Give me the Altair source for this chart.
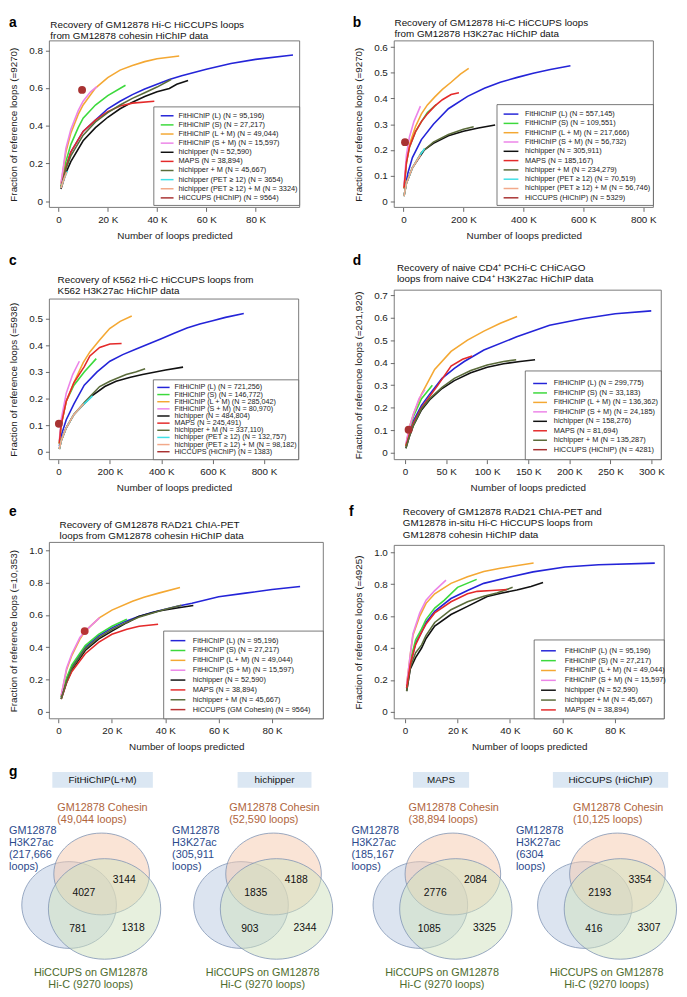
import altair as alt
import pandas as pd

FONT = "Liberation Sans"

# ----------------------------------------------------------------- data
COLORS = {
    "FitHiChIP (L)": "#2424d8",
    "FitHiChIP (S)": "#3cd93c",
    "FitHiChIP (L + M)": "#f4a833",
    "FitHiChIP (S + M)": "#ec84e8",
    "hichipper": "#111111",
    "MAPS": "#e42a2a",
    "hichipper + M": "#5a6b3a",
    "hichipper (PET ≥ 12)": "#3fe0e6",
    "hichipper (PET ≥ 12) + M": "#f2a98a",
    "HiCCUPS (HiChIP)": "#a83232",
    "HiCCUPS (GM Cohesin)": "#b83434",
}

METHODS_10 = ["FitHiChIP (L)", "FitHiChIP (S)", "FitHiChIP (L + M)", "FitHiChIP (S + M)",
              "hichipper", "MAPS", "hichipper + M", "hichipper (PET ≥ 12)",
              "hichipper (PET ≥ 12) + M", "HiCCUPS (HiChIP)"]

# panel a
A_N = [95196, 27217, 49044, 15597, 52590, 38894, 45667, 3654, 3324, 9564]
A_CURVES = {
    "FitHiChIP (L)": ([1, 3, 5, 10, 15, 20, 25, 30, 35, 40, 45, 50, 60, 70, 80, 95.2],
                      [0.07, 0.18, 0.26, 0.37, 0.43, 0.49, 0.53, 0.565, 0.595, 0.62, 0.645, 0.665, 0.70, 0.73, 0.752, 0.775]),
    "FitHiChIP (S)": ([1, 3, 5, 8, 10, 15, 20, 27.2], [0.08, 0.21, 0.30, 0.39, 0.44, 0.51, 0.56, 0.615]),
    "FitHiChIP (L + M)": ([1, 3, 5, 8, 10, 15, 20, 25, 30, 35, 40, 49.0],
                          [0.09, 0.26, 0.36, 0.46, 0.51, 0.60, 0.655, 0.695, 0.72, 0.74, 0.755, 0.77]),
    "FitHiChIP (S + M)": ([1, 3, 5, 8, 10, 13, 15.6], [0.09, 0.28, 0.38, 0.48, 0.53, 0.58, 0.607]),
    "hichipper": ([1, 3, 5, 10, 15, 20, 25, 30, 35, 40, 45, 48, 52.6],
                  [0.065, 0.15, 0.21, 0.32, 0.39, 0.445, 0.49, 0.525, 0.555, 0.58, 0.598, 0.62, 0.64]),
    "MAPS": ([1, 3, 5, 10, 15, 20, 25, 30, 38.9], [0.07, 0.18, 0.26, 0.37, 0.43, 0.475, 0.505, 0.52, 0.53]),
    "hichipper + M": ([1, 3, 5, 10, 15, 20, 25, 30, 35, 40, 45.7],
                      [0.07, 0.17, 0.24, 0.35, 0.42, 0.47, 0.51, 0.545, 0.575, 0.605, 0.645]),
    "hichipper (PET ≥ 12)": ([1, 2, 3.65], [0.07, 0.11, 0.16]),
    "hichipper (PET ≥ 12) + M": ([1, 2, 3.32], [0.07, 0.11, 0.155]),
}
A_DOT = [9.564, 0.59]

# panel b
B_N = [557145, 109551, 217666, 56732, 305911, 185167, 234279, 70519, 56746, 5329]
B_CURVES = {
    "FitHiChIP (L)": ([5, 15, 30, 60, 100, 150, 214, 270, 323, 380, 433, 490, 557.1],
                      [0.05, 0.11, 0.17, 0.24, 0.30, 0.36, 0.408, 0.44, 0.463, 0.482, 0.498, 0.513, 0.527]),
    "FitHiChIP (S)": ([2, 10, 20, 40, 60, 80, 109.6], [0.05, 0.15, 0.21, 0.27, 0.31, 0.345, 0.376]),
    "FitHiChIP (L + M)": ([2, 10, 20, 40, 60, 80, 104, 130, 159, 190, 217.7],
                          [0.05, 0.15, 0.22, 0.29, 0.34, 0.375, 0.405, 0.435, 0.463, 0.495, 0.517]),
    "FitHiChIP (S + M)": ([2, 10, 20, 35, 56.7], [0.06, 0.18, 0.25, 0.31, 0.37]),
    "hichipper": ([2, 10, 30, 70, 100, 150, 200, 250, 305.9],
                  [0.02, 0.07, 0.13, 0.20, 0.225, 0.255, 0.272, 0.285, 0.297]),
    "MAPS": ([2, 10, 20, 40, 60, 80, 104, 130, 159, 185.2],
             [0.05, 0.15, 0.21, 0.27, 0.31, 0.34, 0.37, 0.395, 0.415, 0.422]),
    "hichipper + M": ([2, 10, 30, 60, 100, 150, 200, 234.3], [0.02, 0.07, 0.13, 0.19, 0.23, 0.26, 0.28, 0.29]),
    "hichipper (PET ≥ 12)": ([2, 10, 30, 50, 70.5], [0.02, 0.07, 0.13, 0.17, 0.205]),
    "hichipper (PET ≥ 12) + M": ([2, 10, 30, 56.7], [0.02, 0.07, 0.13, 0.18]),
}
B_DOT = [5.329, 0.23]

# panel c
C_N = [721256, 146772, 285042, 80970, 484804, 245491, 337110, 132757, 98182, 1383]
C_CURVES = {
    "FitHiChIP (L)": ([3, 10, 30, 60, 100, 150, 200, 250, 300, 350, 400, 450, 500, 550, 600, 650, 721.3],
                      [0.02, 0.06, 0.12, 0.18, 0.25, 0.30, 0.34, 0.365, 0.385, 0.405, 0.425, 0.445, 0.465, 0.48, 0.492, 0.505, 0.52]),
    "FitHiChIP (S)": ([3, 10, 30, 60, 100, 146.8], [0.03, 0.10, 0.19, 0.25, 0.30, 0.35]),
    "FitHiChIP (L + M)": ([3, 10, 30, 60, 96, 122, 160, 199, 240, 285],
                          [0.03, 0.10, 0.19, 0.26, 0.335, 0.375, 0.42, 0.463, 0.49, 0.51]),
    "FitHiChIP (S + M)": ([3, 10, 30, 55, 81], [0.04, 0.12, 0.22, 0.29, 0.34]),
    "hichipper": ([3, 10, 30, 60, 100, 130, 180, 224, 280, 327, 417, 484.8],
                  [0.01, 0.04, 0.09, 0.14, 0.18, 0.21, 0.245, 0.265, 0.28, 0.29, 0.307, 0.318]),
    "MAPS": ([3, 10, 30, 60, 100, 122, 160, 200, 245.5], [0.03, 0.10, 0.19, 0.26, 0.32, 0.36, 0.392, 0.405, 0.407]),
    "hichipper + M": ([3, 10, 30, 60, 100, 160, 200, 263, 300, 337.1],
                      [0.01, 0.04, 0.09, 0.14, 0.185, 0.245, 0.265, 0.29, 0.30, 0.312]),
    "hichipper (PET ≥ 12)": ([3, 10, 30, 60, 100, 132.8], [0.01, 0.04, 0.09, 0.14, 0.18, 0.21]),
    "hichipper (PET ≥ 12) + M": ([3, 10, 30, 60, 98.2], [0.01, 0.04, 0.09, 0.14, 0.18]),
}
C_DOT = [1.383, 0.105]

# panel d
D_METHODS = ["FitHiChIP (L)", "FitHiChIP (S)", "FitHiChIP (L + M)", "FitHiChIP (S + M)",
             "hichipper", "MAPS", "hichipper + M", "HiCCUPS (HiChIP)"]
D_N = [299775, 33183, 136362, 24185, 158276, 81694, 135287, 4281]
D_CURVES = {
    "FitHiChIP (L)": ([1, 5, 10, 20, 30, 45, 60, 72, 96, 136, 176, 216, 256, 299.8],
                      [0.03, 0.09, 0.14, 0.21, 0.26, 0.33, 0.375, 0.405, 0.456, 0.515, 0.566, 0.595, 0.617, 0.63]),
    "FitHiChIP (S)": ([1, 5, 10, 20, 33.2], [0.03, 0.10, 0.16, 0.24, 0.30]),
    "FitHiChIP (L + M)": ([1, 5, 10, 20, 36, 56, 76, 96, 116, 136.4],
                          [0.03, 0.11, 0.17, 0.26, 0.37, 0.45, 0.50, 0.54, 0.575, 0.605]),
    "FitHiChIP (S + M)": ([1, 5, 10, 17, 24.2], [0.04, 0.11, 0.17, 0.24, 0.28]),
    "hichipper": ([1, 5, 10, 20, 30, 45, 60, 80, 100, 120, 140, 158.3],
                  [0.02, 0.07, 0.12, 0.19, 0.235, 0.285, 0.32, 0.355, 0.38, 0.395, 0.405, 0.413]),
    "MAPS": ([1, 5, 10, 20, 30, 40, 56, 70, 81.7], [0.03, 0.08, 0.13, 0.20, 0.25, 0.30, 0.385, 0.415, 0.43]),
    "hichipper + M": ([1, 5, 10, 20, 30, 45, 60, 80, 100, 120, 135.3],
                      [0.02, 0.07, 0.12, 0.195, 0.24, 0.29, 0.33, 0.365, 0.39, 0.405, 0.413]),
}
D_DOT = [4.281, 0.102]

# panel e
E_METHODS = ["FitHiChIP (L)", "FitHiChIP (S)", "FitHiChIP (L + M)", "FitHiChIP (S + M)",
             "hichipper", "MAPS", "hichipper + M", "HiCCUPS (GM Cohesin)"]
E_N = [95196, 27217, 49044, 15597, 52590, 38894, 45667, 9564]
E_CURVES = {
    "FitHiChIP (L)": ([1, 3, 5, 10, 15, 20, 25, 30, 35, 40, 45, 50, 60, 70, 80, 90.5],
                      [0.09, 0.2, 0.28, 0.40, 0.47, 0.52, 0.56, 0.59, 0.615, 0.635, 0.655, 0.672, 0.712, 0.735, 0.757, 0.776]),
    "FitHiChIP (S)": ([1, 3, 5, 10, 15, 20, 25.6], [0.09, 0.21, 0.29, 0.41, 0.48, 0.53, 0.573]),
    "FitHiChIP (L + M)": ([1, 3, 5, 8, 10, 15.4, 20, 27.7, 32, 37.5, 45.5],
                          [0.10, 0.26, 0.35, 0.45, 0.50, 0.583, 0.63, 0.685, 0.71, 0.735, 0.77]),
    "FitHiChIP (S + M)": ([1, 3, 5, 8, 10, 15.4], [0.10, 0.27, 0.36, 0.46, 0.50, 0.583]),
    "hichipper": ([1, 3, 5, 10, 15, 20, 25.6, 30, 37.5, 45, 50.5],
                  [0.08, 0.18, 0.26, 0.38, 0.45, 0.50, 0.552, 0.59, 0.624, 0.645, 0.658]),
    "MAPS": ([1, 3, 5, 10, 15, 20, 25.6, 30.2, 37.3], [0.08, 0.18, 0.25, 0.36, 0.43, 0.48, 0.512, 0.53, 0.542]),
    "hichipper + M": ([1, 3, 5, 10, 15, 20, 25, 30, 35, 40, 46],
                      [0.08, 0.19, 0.27, 0.39, 0.46, 0.51, 0.55, 0.585, 0.61, 0.635, 0.66]),
}
E_DOT = [9.8, 0.50]

# panel f
F_METHODS = ["FitHiChIP (L)", "FitHiChIP (S)", "FitHiChIP (L + M)", "FitHiChIP (S + M)",
             "hichipper", "hichipper + M", "MAPS"]
F_N = [95196, 27217, 49044, 15597, 52590, 45667, 38894]
F_CURVES = {
    "FitHiChIP (L)": ([0.6, 2, 4, 6.3, 8, 11.3, 17.5, 23.8, 30, 40, 48.8, 61, 73.8, 95.2],
                      [0.15, 0.30, 0.43, 0.50, 0.56, 0.63, 0.71, 0.76, 0.805, 0.845, 0.877, 0.907, 0.922, 0.932]),
    "FitHiChIP (S)": ([0.6, 2, 4, 6.3, 8, 11.3, 15, 20, 27.3], [0.16, 0.32, 0.45, 0.52, 0.58, 0.65, 0.70, 0.78, 0.83]),
    "FitHiChIP (L + M)": ([0.6, 2, 3, 5.6, 8, 11.3, 17.5, 23.8, 30, 36.3, 49],
                          [0.17, 0.36, 0.48, 0.60, 0.68, 0.74, 0.805, 0.846, 0.88, 0.90, 0.932]),
    "FitHiChIP (S + M)": ([0.6, 2, 3, 5.6, 8, 11.3, 15.6], [0.17, 0.36, 0.49, 0.62, 0.70, 0.76, 0.825]),
    "hichipper": ([0.6, 2, 4, 6.3, 8, 11.3, 17.5, 23.8, 31.3, 37, 42.6, 48, 52.6],
                  [0.13, 0.27, 0.34, 0.40, 0.46, 0.537, 0.61, 0.661, 0.723, 0.745, 0.764, 0.785, 0.81]),
    "hichipper + M": ([0.6, 2, 4, 6.3, 8, 11.3, 17.5, 23.8, 30, 35, 41],
                      [0.13, 0.28, 0.37, 0.42, 0.48, 0.56, 0.64, 0.69, 0.725, 0.745, 0.78]),
    "MAPS": ([0.6, 2, 4, 6.3, 8, 11.3, 17.5, 23.8, 27.5, 33, 38.9],
             [0.15, 0.30, 0.42, 0.50, 0.55, 0.62, 0.69, 0.74, 0.755, 0.76, 0.767]),
}

TITLES = {
    "a": ["Recovery of GM12878 Hi-C HiCCUPS loops", "from GM12878 cohesin HiChIP data"],
    "b": ["Recovery of GM12878 Hi-C HiCCUPS loops", "from GM12878 H3K27ac HiChIP data"],
    "c": ["Recovery of K562 Hi-C HiCCUPS loops from", "K562 H3K27ac HiChIP data"],
    "d": ["Recovery of naive CD4⁺ PCHi-C CHiCAGO", "loops from naive CD4⁺ H3K27ac HiChIP data"],
    "e": ["Recovery of GM12878 RAD21 ChIA-PET", "loops from GM12878 cohesin HiChIP data"],
    "f": ["Recovery of GM12878 RAD21 ChIA-PET and", "GM12878 in-situ Hi-C HiCCUPS loops from",
          "GM12878 cohesin HiChIP data"],
}
YTITLES = {
    "a": "Fraction of reference loops (=9270)",
    "b": "Fraction of reference loops (=9270)",
    "c": "Fraction of reference loops (=5938)",
    "d": "Fraction of reference loops (=201,920)",
    "e": "Fraction of reference loops (=10,353)",
    "f": "Fraction of reference loops (=4925)",
}
XTICKS = {"a": [0, 20, 40, 60, 80], "b": [0, 200, 400, 600, 800], "c": [0, 200, 400, 600, 800],
          "d": [0, 50, 100, 150, 200, 250, 300], "e": [0, 20, 40, 60, 80], "f": [0, 20, 40, 60, 80]}
YTICKS = {"a": [0, 0.2, 0.4, 0.6, 0.8], "b": [0, 0.1, 0.2, 0.3, 0.4, 0.5, 0.6],
          "c": [0, 0.1, 0.2, 0.3, 0.4, 0.5], "d": [0, 0.1, 0.2, 0.3, 0.4, 0.5, 0.6, 0.7],
          "e": [0, 0.2, 0.4, 0.6, 0.8, 1.0], "f": [0, 0.2, 0.4, 0.6, 0.8, 1.0]}

# Venn diagrams (panel g)
VENN_TITLES = ["FitHiChIP(L+M)", "hichipper", "MAPS", "HiCCUPS (HiChIP)"]
VENN_COHESIN = ["49,044", "52,590", "38,894", "10,125"]
VENN_H3K27AC = ["217,666", "305,911", "185,167", "6304"]
VENN_HIC = "9270"
# [all three, cohesin & HiC only, H3K27ac & HiC only, HiC only]
VENN_COUNTS = [[4027, 3144, 781, 1318], [1835, 4188, 903, 2344],
               [2776, 2084, 1085, 3325], [2193, 3354, 416, 3307]]

# ----------------------------------------------------------------- layout / style
LAYOUT = {
    "a": dict(w=254, h=169, top=0, xdom=[-3.7, 97.9], ydom=[-0.033, 0.850],
              letter=(-41, -14), tx=1, ty=-13.5, lh=11.5,
              box=(106, 67, 254, 167), r0=76, sp=9.26, sym=(113, 126), ltx=131, fs=7.5),
    "b": dict(w=263, h=169, top=0, xdom=[-30.6, 833.7], ydom=[-0.024, 0.624],
              letter=(-42, -14), tx=0.3, ty=-15.5, lh=12,
              box=(104.3, 64.7, 263, 167), r0=74.3, sp=9.44, sym=(111, 126), ltx=132.7, fs=7.5),
    "c": dict(w=253, h=172, top=9, xdom=[-35.7, 935], ydom=[-0.030, 0.574],
              letter=(-41, -26), tx=8.3, ty=-7, lh=11.3,
              box=(105.5, 91, 253, 172), r0=98.7, sp=7.25, sym=(109.5, 122), ltx=127, fs=7.3),
    "d": dict(w=271, h=172, top=0, xdom=[-13.2, 312], ydom=[-0.031, 0.722],
              letter=(-42, -26), tx=2.7, ty=-19, lh=11,
              box=(133, 82, 271, 172), r0=94.7, sp=9.6, sym=(141, 155), ltx=162, fs=7.5),
    "e": dict(w=278, h=179, top=0, xdom=[-3.43, 99.2], ydom=[-0.043, 1.049],
              letter=(-41, -27), tx=10.3, ty=-14.5, lh=11,
              box=(116, 90, 278, 179), r0=99.7, sp=10, sym=(123, 138), ltx=145.5, fs=7.5),
    "f": dict(w=274, h=179, top=3, xdom=[-4.13, 98.8], ydom=[-0.043, 1.043],
              letter=(-46, -27), tx=8.7, ty=-27.7, lh=11.5,
              box=(142, 99, 274, 179), r0=110, sp=10, sym=(149, 164), ltx=173, fs=7.5),
}

ONE = pd.DataFrame({"k": [0]})


def fmt_n(n):
    return f"{n:,}" if n >= 10000 else str(n)


def panel(key, methods, ns, curves, dot, anchor=False):
    lay = LAYOUT[key]
    w, h, top = lay["w"], lay["h"], lay["top"]
    labels = [f"{m} (N = {fmt_n(n)})" for m, n in zip(methods, ns)]
    lab = dict(zip(methods, labels))
    cscale = alt.Scale(domain=labels, range=[COLORS[m] for m in methods])
    color = alt.Color("label:N", scale=cscale, legend=None)
    rows = []
    for m in methods:
        if m in curves:
            xs, ys = curves[m]
            rows += [{"label": lab[m], "x": x, "y": y} for x, y in zip(xs, ys)]
    df = pd.DataFrame(rows)
    xsc = alt.Scale(domain=lay["xdom"], nice=False, zero=False)
    ysc = alt.Scale(domain=lay["ydom"], range=[h, top], nice=False, zero=False)
    xax = alt.Axis(values=XTICKS[key], labelExpr="datum.value == 0 ? '0' : datum.value + ' K'",
                   title="Number of loops predicted")
    yax = alt.Axis(values=YTICKS[key], labelExpr="datum.value == 0 ? '0' : format(datum.value, '.1f')",
                   title=YTITLES[key])
    layers = [
        alt.Chart(ONE).mark_rect(fillOpacity=0, stroke="#6b6b6b", strokeWidth=0.9).encode(
            x=alt.value(0), x2=alt.value(w), y=alt.value(top), y2=alt.value(h)),
        alt.Chart(df).mark_line(strokeWidth=1.6).encode(
            x=alt.X("x:Q", scale=xsc, axis=xax), y=alt.Y("y:Q", scale=ysc, axis=yax), color=color),
    ]
    if dot is not None:
        ddf = pd.DataFrame({"label": [labels[-1]], "x": [dot[0]], "y": [dot[1]]})
        layers.append(alt.Chart(ddf).mark_circle(size=64, opacity=1).encode(
            x=alt.X("x:Q", scale=xsc, axis=xax), y=alt.Y("y:Q", scale=ysc, axis=None), color=color))
    bx0, by0, bx1, by1 = lay["box"]
    n = len(labels)
    rsc = alt.Scale(domain=[0, n - 1], range=[lay["r0"], lay["r0"] + (n - 1) * lay["sp"]], nice=False, zero=False)
    ldf = pd.DataFrame({"label": labels, "row": list(range(n))})
    layers += [
        alt.Chart(ONE).mark_rect(fill="white", stroke="#555555", strokeWidth=0.8).encode(
            x=alt.value(bx0), x2=alt.value(bx1), y=alt.value(by0), y2=alt.value(by1)),
        alt.Chart(ldf).mark_rule(strokeWidth=1.5).encode(
            x=alt.value(lay["sym"][0]), x2=alt.value(lay["sym"][1]),
            y=alt.Y("row:Q", scale=rsc, axis=None), color=color),
        alt.Chart(ldf).mark_text(align="left", baseline="middle", fontSize=lay["fs"], font=FONT,
                                 color="#222222").encode(
            x=alt.value(lay["ltx"]), y=alt.Y("row:Q", scale=rsc, axis=None), text="label:N"),
    ]
    for i, line in enumerate(TITLES[key]):
        layers.append(alt.Chart(ONE).mark_text(text=line, align="left", baseline="alphabetic", fontSize=10,
                                               font=FONT, color="#111111").encode(
            x=alt.value(lay["tx"]), y=alt.value(lay["ty"] + i * lay["lh"])))
    layers.append(alt.Chart(ONE).mark_text(text=key, align="left", baseline="alphabetic", fontSize=14,
                                           fontWeight="bold", font=FONT, color="#000000").encode(
        x=alt.value(lay["letter"][0]), y=alt.value(lay["letter"][1])))
    if anchor:
        layers.append(alt.Chart(ONE).mark_point(size=1, opacity=0, filled=True).encode(
            x=alt.value(-41), y=alt.value(-25)))
    return alt.layer(*layers).resolve_scale(y="independent").properties(width=w, height=h)


# Venn geometry (page coordinates)
V_CX = [102, 276.5, 458.5, 625.5]
V_HEAD_CX = [103, 277.5, 446.5, 618.5]
V_HEAD_W = [102, 75, 57, 117]
ELL = {  # dx from cohesin centre, centre y, width, aspect, fill
    "B": (-33, 910, 96, 0.917, "#b9c9e2"),
    "O": (0, 878.5, 97, 0.856, "#f5c9ad"),
    "G": (3, 914, 114, 0.895, "#cfe2bd"),
}
NUM_POS = [(-18, 897.5), (23, 885), (-24, 934.5), (32, 933)]


def ellipse_path(a):
    k = 0.5523
    return (f"M1,0C1,{k*a:.4f} {k:.4f},{a:.4f} 0,{a:.4f}"
            f"C{-k:.4f},{a:.4f} -1,{k*a:.4f} -1,0"
            f"C-1,{-k*a:.4f} {-k:.4f},{-a:.4f} 0,{-a:.4f}"
            f"C{k:.4f},{-a:.4f} 1,{-k*a:.4f} 1,0Z")


def venn_cell(idxs, ox, oy, letter):
    xs = alt.Scale(domain=[0, 1000], range=[-ox, 1000 - ox], nice=False, zero=False)
    ys = alt.Scale(domain=[0, 1000], range=[-oy, 1000 - oy], nice=False, zero=False)

    def X(f):
        return alt.X(f, scale=xs, axis=None)

    def Y(f):
        return alt.Y(f, scale=ys, axis=None)

    head = pd.DataFrame([{"x0": V_HEAD_CX[i] - V_HEAD_W[i] / 2, "x1": V_HEAD_CX[i] + V_HEAD_W[i] / 2,
                          "y0": 775, "y1": 791, "cx": V_HEAD_CX[i], "cy": 783.5, "t": VENN_TITLES[i]}
                         for i in idxs])
    layers = [
        alt.Chart(head).mark_rect(fill="#dbe7f3").encode(x=X("x0:Q"), x2=alt.X2("x1"), y=Y("y0:Q"), y2=alt.Y2("y1")),
        alt.Chart(head).mark_text(fontSize=10, font=FONT, color="#111111", baseline="middle").encode(
            x=X("cx:Q"), y=Y("cy:Q"), text="t:N"),
    ]
    for key in ["B", "O", "G"]:
        dx, cy, wd, asp, fill = ELL[key]
        d = pd.DataFrame([{"px": V_CX[i] + dx, "py": cy} for i in idxs])
        layers.append(alt.Chart(d).mark_point(shape=ellipse_path(asp), size=wd * wd, filled=True, fill=fill,
                                              fillOpacity=0.5, stroke="#8094b4", strokeWidth=0.8,
                                              strokeOpacity=1, opacity=1).encode(x=X("px:Q"), y=Y("py:Q")))
    coh = pd.DataFrame([{"px": V_CX[i] - 45, "py": 815, "t": f"GM12878 Cohesin\n({VENN_COHESIN[i]} loops)"}
                        for i in idxs])
    h3 = pd.DataFrame([{"px": max(8, V_CX[i] - 103), "py": 838,
                        "t": f"GM12878\nH3K27ac\n({VENN_H3K27AC[i]}\nloops)"} for i in idxs])
    hic = pd.DataFrame([{"px": V_CX[i] - 11, "py": 982, "t": f"HiCCUPS on GM12878\nHi-C ({VENN_HIC} loops)"}
                        for i in idxs])
    nums = pd.DataFrame([{"px": V_CX[i] + NUM_POS[j][0], "py": NUM_POS[j][1], "t": str(VENN_COUNTS[i][j])}
                         for i in idxs for j in range(4)])
    layers += [
        alt.Chart(coh).mark_text(align="left", baseline="alphabetic", lineBreak="\n", lineHeight=12,
                                 fontSize=11, font=FONT, color="#b0653c").encode(x=X("px:Q"), y=Y("py:Q"), text="t:N"),
        alt.Chart(h3).mark_text(align="left", baseline="alphabetic", lineBreak="\n", lineHeight=12,
                                fontSize=11, font=FONT, color="#2c4a8c").encode(x=X("px:Q"), y=Y("py:Q"), text="t:N"),
        alt.Chart(hic).mark_text(align="center", baseline="alphabetic", lineBreak="\n", lineHeight=12,
                                 fontSize=11, font=FONT, color="#4e6b2d").encode(x=X("px:Q"), y=Y("py:Q"), text="t:N"),
        alt.Chart(nums).mark_text(align="center", baseline="middle", fontSize=10.5, font=FONT,
                                  color="#111111").encode(x=X("px:Q"), y=Y("py:Q"), text="t:N"),
    ]
    if letter:
        layers.append(alt.Chart(pd.DataFrame({"px": [8], "py": [779]})).mark_text(
            text="g", align="left", baseline="alphabetic", fontSize=14, fontWeight="bold", font=FONT,
            color="#000000").encode(x=X("px:Q"), y=Y("py:Q")))
    return alt.layer(*layers).properties(width=100, height=150)


pa = panel("a", METHODS_10, A_N, A_CURVES, A_DOT, anchor=True)
pb = panel("b", METHODS_10, B_N, B_CURVES, B_DOT)
pc = panel("c", METHODS_10, C_N, C_CURVES, C_DOT)
pd_ = panel("d", D_METHODS, D_N, D_CURVES, D_DOT)
pe = panel("e", E_METHODS, E_N, E_CURVES, E_DOT)
pf = panel("f", F_METHODS, F_N, F_CURVES, None)
v1 = venn_cell([0, 1], 49, 805, True)
v2 = venn_cell([2, 3], 399, 805, False)

chart = alt.concat(
    pa, pb, pc, pd_, pe, pf, v1, v2,
    columns=2, spacing={"row": 84, "column": 72}, bounds="flush", align="each",
).resolve_scale(
    x="independent", y="independent", color="independent"
).properties(padding=0).configure(font=FONT).configure_view(stroke="transparent").configure_axis(
    grid=False, domain=False, tickSize=4, tickColor="#444444", tickWidth=0.8,
    labelFontSize=10, labelColor="#222222", labelPadding=3, labelFont=FONT,
    titleFontSize=10, titleFontWeight="normal", titleColor="#222222", titleFont=FONT,
    labelFlush=False, labelOverlap=False,
).configure_axisX(titlePadding=6.5).configure_axisY(titlePadding=10)

chart.save("out.html", embed_options={"renderer": "svg", "actions": False})
